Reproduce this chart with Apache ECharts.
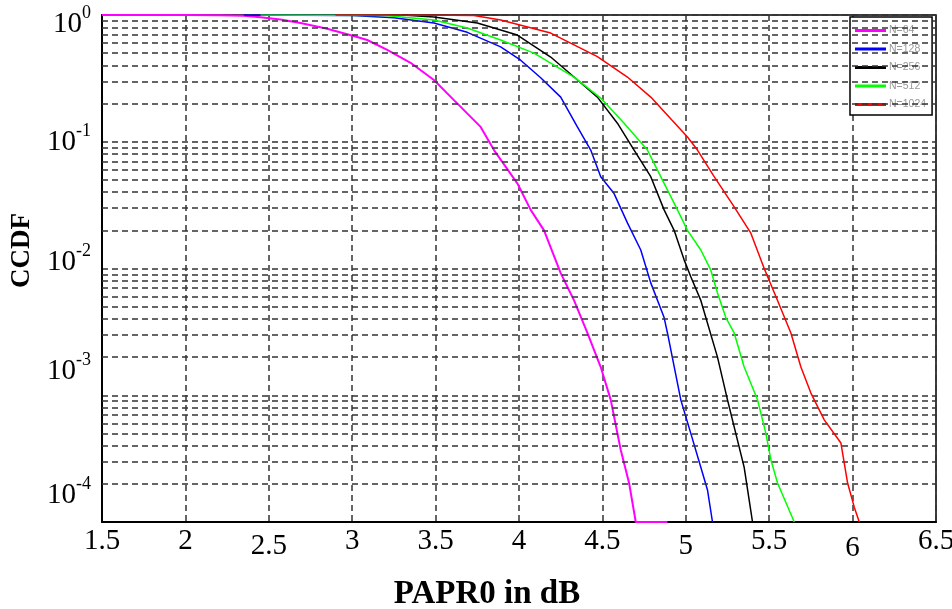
<!DOCTYPE html>
<html>
<head>
<meta charset="utf-8">
<script src="https://cdn.jsdelivr.net/npm/echarts@6/dist/echarts.min.js"></script>
<style>
html,body{margin:0;padding:0;background:#fff;}
#chart{width:952px;height:609px;}
</style>
</head>
<body>
<div id="chart"></div>
<script>
// ---- data (x = PAPR0 in dB, y = CCDF) ----
var seriesNames = ['N=64', 'N=128', 'N=256', 'N=512', 'N=1024'];

var n64 = [[1.5,1],[2.0,1],[2.2,0.995],[2.35,0.985],[2.45,0.96],[2.57,0.92],[2.69,0.865],[2.85,0.78],[3.03,0.67],[3.09,0.635],[3.21,0.53],[3.35,0.42],[3.49,0.307],[3.61,0.213],[3.77,0.131],[3.85,0.086],[3.99,0.047],[4.07,0.029],[4.15,0.020],[4.25,0.0092],[4.33,0.0056],[4.41,0.0031],[4.49,0.00167],[4.55,0.00092],[4.61,0.00037],[4.66,0.000203],[4.70,0.0001],[4.89,0.0001]];

var n128 = [[2.35,1],[3.0,0.99],[3.25,0.95],[3.49,0.865],[3.69,0.73],[3.89,0.56],[4.01,0.44],[4.13,0.32],[4.25,0.225],[4.35,0.131],[4.43,0.086],[4.49,0.053],[4.57,0.039],[4.65,0.0229],[4.73,0.014],[4.79,0.0077],[4.87,0.0041],[4.89,0.0031],[4.97,0.00092],[5.03,0.0005],[5.09,0.00027],[5.13,0.000179],[5.16,0.0001]];

var n256 = [[3.3,1],[3.49,0.964],[3.75,0.865],[3.99,0.695],[4.19,0.466],[4.33,0.324],[4.47,0.225],[4.59,0.14],[4.69,0.086],[4.79,0.053],[4.87,0.029],[4.93,0.020],[4.99,0.0117],[5.03,0.0086],[5.09,0.0056],[5.19,0.0020],[5.25,0.00092],[5.31,0.00044],[5.35,0.00027],[5.38,0.000149],[5.40,0.0001]];

var n512 = [[2.45,1],[3.2,0.99],[3.49,0.913],[3.69,0.79],[3.89,0.635],[4.09,0.50],[4.33,0.324],[4.49,0.221],[4.63,0.14],[4.77,0.086],[4.87,0.047],[4.95,0.029],[5.01,0.020],[5.09,0.014],[5.15,0.0097],[5.19,0.0064],[5.24,0.0041],[5.29,0.0031],[5.35,0.00167],[5.43,0.00092],[5.48,0.0005],[5.51,0.00031],[5.55,0.000203],[5.65,0.0001]];

var n1024 = [[2.9,1],[3.6,0.997],[3.73,0.99],[3.89,0.913],[4.19,0.72],[4.47,0.47],[4.65,0.324],[4.79,0.225],[5.01,0.109],[5.07,0.086],[5.17,0.053],[5.29,0.0306],[5.39,0.019],[5.47,0.01],[5.55,0.0056],[5.63,0.0031],[5.69,0.00167],[5.75,0.00104],[5.83,0.00064],[5.93,0.00042],[5.97,0.000203],[6.01,0.000131],[6.04,0.0001]];

var seriesColors = ['#ff00ff', '#0000ff', '#000000', '#00ff00', '#ff0000'];

// axis ranges / ticks
var xMin = 1.5, xMax = 6.5, xStep = 0.5;
var yMin = 1e-4, yMax = 1;
// minor grid multipliers inside each decade
var minorMult = [2, 3, 4, 5, 6, 7, 8, 9];
var minorDecades = [-4, -3, -2, -1];

// vertical offsets of tick labels as they sit in the reference
var yLabelShift = {'0': 9, '-1': 1, '-2': -6, '-3': -24, '-4': -27};
var xLabelShift = {'2.5': 5, '5': 5, '6': 7};

var serif = '"Liberation Serif", "Times New Roman", serif';
var dash = [6, 4];

// minor log gridlines as mark lines
var minorLines = [];
minorDecades.forEach(function (e) {
  minorMult.forEach(function (m) {
    minorLines.push({ yAxis: m * Math.pow(10, e) });
  });
});

// rich styles for y labels
var yRich = {};
Object.keys(yLabelShift).forEach(function (k, i) {
  var d = yLabelShift[k];
  var pad = d >= 0 ? [2 * d, 0, 0, 0] : [0, 0, -2 * d, 0];
  yRich['b' + i] = { fontFamily: serif, fontSize: 29, color: '#000', padding: pad };
  yRich['s' + i] = { fontFamily: serif, fontSize: 18, color: '#000', padding: [pad[0], 0, pad[2] + 22, 0] };
});
var yKeys = Object.keys(yLabelShift);

var xRich = { n: { fontFamily: serif, fontSize: 29, color: '#000' } };
Object.keys(xLabelShift).forEach(function (k, i) {
  xRich['d' + i] = { fontFamily: serif, fontSize: 29, color: '#000', padding: [xLabelShift[k], 0, 0, 0] };
});
var xKeys = Object.keys(xLabelShift);

var dataSets = [n64, n128, n256, n512, n1024];
var series = [{
  name: 'grid',
  type: 'line',
  data: [],
  silent: true,
  markLine: {
    silent: true,
    symbol: 'none',
    precision: 8,
    label: { show: false },
    lineStyle: { type: dash, color: '#333', width: 1.5 },
    animation: false,
    data: minorLines
  }
}];
dataSets.forEach(function (d, i) {
  series.push({
    name: seriesNames[i],
    type: 'line',
    data: d,
    showSymbol: false,
    symbol: 'none',
    lineStyle: { color: seriesColors[i], width: i === 0 ? 2 : 1.5 },
    itemStyle: { color: seriesColors[i] },
    z: 3 + i
  });
});

var chart = echarts.init(document.getElementById('chart'), null, { renderer: 'canvas' });
chart.setOption({
  animation: false,
  backgroundColor: '#fff',
  grid: {
    left: 102, right: 16, top: 15, bottom: 87,
    containLabel: false,
    outerBoundsMode: 'none',
    show: true, borderColor: '#000', borderWidth: 1.5, backgroundColor: '#fff'
  },
  legend: {
    data: seriesNames,
    orient: 'vertical',
    left: 850, top: 17,
    width: 82,
    icon: 'rect',
    itemWidth: 31, itemHeight: 3,
    itemGap: 7.5,
    padding: [8, 6, 5, 5],
    backgroundColor: '#fff',
    borderColor: '#000',
    borderWidth: 1.5,
    borderRadius: 0,
    textStyle: { fontFamily: '"Liberation Sans", Arial, sans-serif', fontSize: 10.5, color: '#999', padding: [0, 0, 0, -2] }
  },
  xAxis: {
    type: 'value',
    min: xMin, max: xMax, interval: xStep,
    name: 'PAPR0 in dB',
    nameLocation: 'middle',
    nameGap: 56,
    nameTextStyle: { fontFamily: serif, fontSize: 33, fontWeight: 'bold', color: '#000', padding: [0, 64, 0, 0] },
    axisLine: { show: true, onZero: false, lineStyle: { color: '#000', width: 2 } },
    axisTick: { show: false },
    axisLabel: {
      margin: 5,
      formatter: function (v) {
        var s = String(+v.toFixed(1));
        var idx = xKeys.indexOf(s);
        return idx >= 0 ? '{d' + idx + '|' + s + '}' : '{n|' + s + '}';
      },
      rich: xRich
    },
    splitLine: { show: true, lineStyle: { type: dash, color: '#333', width: 1.5 } }
  },
  yAxis: {
    type: 'log',
    logBase: 10,
    min: yMin, max: yMax,
    name: 'CCDF',
    nameLocation: 'middle',
    nameGap: 66,
    nameTextStyle: { fontFamily: serif, fontSize: 27, fontWeight: 'bold', color: '#000', padding: [0, 0, 0, 36] },
    axisLine: { show: true, lineStyle: { color: '#000', width: 2 } },
    axisTick: { show: false },
    axisLabel: {
      margin: 11,
      formatter: function (v) {
        var e = String(Math.round(Math.log10(v)));
        var i = yKeys.indexOf(e);
        return '{b' + i + '|10}{s' + i + '|' + e + '}';
      },
      rich: yRich
    },
    splitLine: { show: true, lineStyle: { type: dash, color: '#333', width: 1.5 } }
  },
  series: series
});
</script>
</body>
</html>
